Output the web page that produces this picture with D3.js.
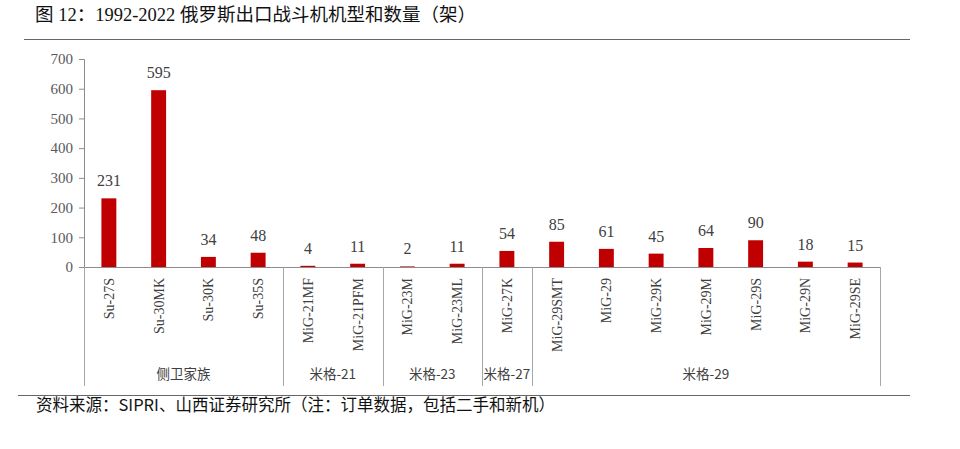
<!DOCTYPE html>
<html><head><meta charset="utf-8">
<script src="https://cdn.jsdelivr.net/npm/d3@7"></script>
<style>body{margin:0;background:#fff;} svg{display:block;}</style>
</head><body>
<svg id="c" width="960" height="449"></svg>
<script>
const categories = ["Su-27S","Su-30MK","Su-30K","Su-35S","MiG-21MF","MiG-21PFM","MiG-23M","MiG-23ML","MiG-27K","MiG-29SMT","MiG-29","MiG-29K","MiG-29M","MiG-29S","MiG-29N","MiG-29SE"];
const values = [231,595,34,48,4,11,2,11,54,85,61,45,64,90,18,15];
const groups = ["侧卫家族","米格-21","米格-23","米格-27","米格-29"];
const groupSizes = [4,2,2,1,7];
const yTicks = [0,100,200,300,400,500,600,700];

const svg = d3.select("#c");
const serif = "'Liberation Serif','Times New Roman',serif";
const cjk = "'Noto Sans CJK SC',sans-serif";
const mixed = "'Liberation Serif','Noto Sans CJK SC',serif";
const x0 = 84, x1 = 880, yBase = 267, yTop = 59;
const x = d3.scaleBand().domain(categories).range([x0, x1]).paddingInner(0.7).paddingOuter(0.35);
const y = d3.scaleLinear().domain([0,700]).range([yBase, yTop]);

// title
svg.append("text").attr("x",35).attr("y",21).attr("font-size",18.5).attr("fill","#111")
  .attr("font-family",mixed).text("图 12：1992-2022 俄罗斯出口战斗机机型和数量（架）");
svg.append("line").attr("x1",24).attr("x2",910).attr("y1",39.5).attr("y2",39.5).attr("stroke","#666").attr("stroke-width",1.2);

// y axis
const ya = svg.append("g").attr("transform",`translate(${x0},0)`)
  .call(d3.axisLeft(y).tickValues(yTicks).tickSize(5).tickPadding(6));
ya.selectAll("path,line").attr("stroke","#8c8c8c");
ya.selectAll("text").attr("font-family",serif).attr("font-size",15).attr("fill","#595959");

// x baseline
svg.append("line").attr("x1",x0).attr("x2",x1).attr("y1",yBase+0.5).attr("y2",yBase+0.5).attr("stroke","#8c8c8c");

// bars
const step = x.step();
svg.selectAll("rect.bar").data(values).join("rect")
  .attr("x",(d,i)=>x(categories[i])).attr("width",x.bandwidth())
  .attr("y",d=>y(d)).attr("height",d=>yBase-y(d)).attr("fill","#C00000");

// value labels
svg.selectAll("text.v").data(values).join("text")
  .attr("x",(d,i)=>x(categories[i])+x.bandwidth()/2).attr("y",d=>y(d)-12)
  .attr("text-anchor","middle").attr("font-family",serif).attr("font-size",16).attr("fill","#404040")
  .text(d=>d);

// category labels
svg.selectAll("text.cat").data(categories).join("text")
  .attr("transform",d=>`translate(${x(d)+x.bandwidth()/2+5},${yBase+11}) rotate(-90)`)
  .attr("text-anchor","end").attr("font-family",serif).attr("font-size",14).attr("fill","#404040")
  .text(d=>d);

// group separators and labels
let idx = 0;
const bounds = [x0];
groupSizes.forEach(s=>{ idx += s; bounds.push(x0 + step*idx); });
bounds.forEach(b=>{
  svg.append("line").attr("x1",Math.round(b)+0.5).attr("x2",Math.round(b)+0.5).attr("y1",yBase).attr("y2",386)
    .attr("stroke","#a6a6a6");
});
groups.forEach((g,i)=>{
  svg.append("text").attr("x",(bounds[i]+bounds[i+1])/2).attr("y",379)
    .attr("text-anchor","middle").attr("font-family",cjk).attr("font-size",13.5).attr("fill","#404040").text(g);
});

// bottom line and source
svg.append("line").attr("x1",18).attr("x2",910).attr("y1",395.5).attr("y2",395.5).attr("stroke","#666").attr("stroke-width",1.2);
svg.append("text").attr("x",36).attr("y",411).attr("font-size",16.5).attr("fill","#111")
  .attr("font-family",cjk).text("资料来源：SIPRI、山西证券研究所（注：订单数据，包括二手和新机）");
</script>
</body></html>
